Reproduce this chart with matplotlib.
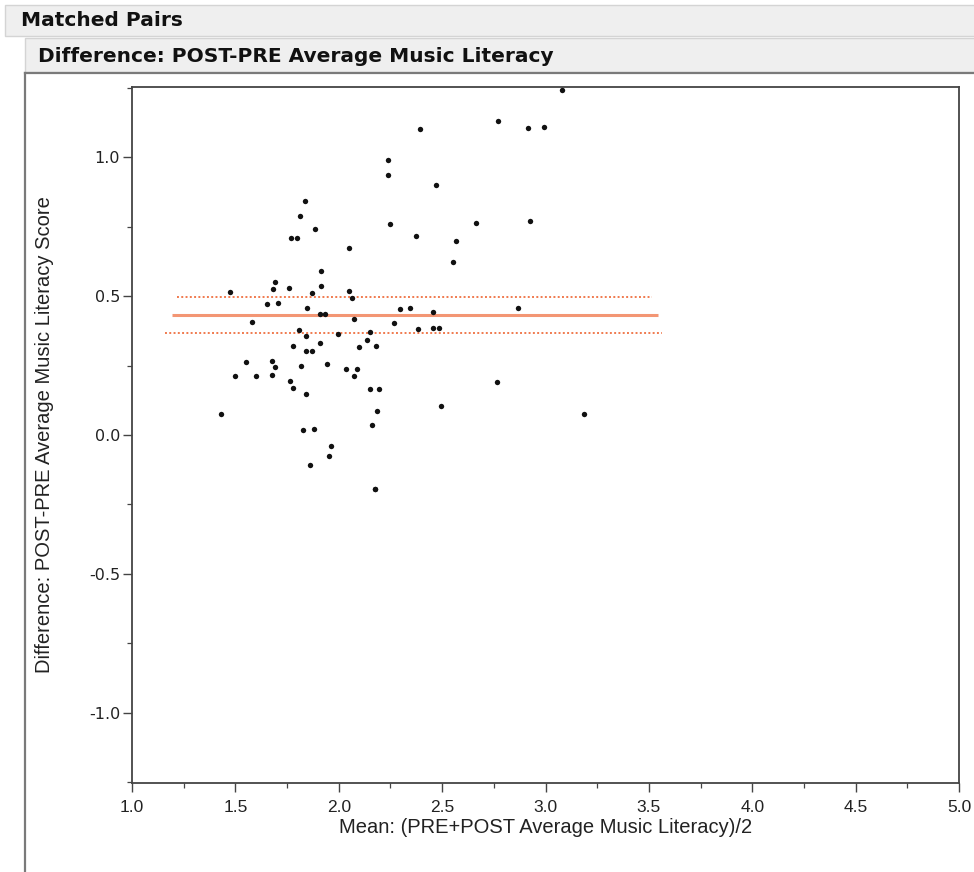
import matplotlib
matplotlib.use("Agg")
import matplotlib.pyplot as plt
from matplotlib.patches import Rectangle
from matplotlib.lines import Line2D
from matplotlib.ticker import MultipleLocator

# ---- data ----
mean_score = [3.081, 2.771, 2.393, 2.915, 2.991, 2.236, 2.240, 2.468, 2.248, 2.666,
              2.925, 2.374, 2.566, 2.552,
              1.837, 1.811, 1.887, 1.769, 1.797, 2.051, 1.912, 1.693, 1.680, 1.758,
              1.475, 1.912, 2.051, 1.871, 2.065, 1.655, 1.706, 1.845, 1.910, 1.934,
              1.582, 2.075, 1.806, 1.844, 1.997, 2.152, 2.139, 2.178, 1.777, 1.908,
              2.099, 1.844, 1.869, 1.549, 1.675, 1.690, 1.816, 1.945, 2.034, 2.086,
              1.499, 1.598, 1.677, 2.073, 1.766, 1.777, 1.842, 2.151, 2.194, 1.432,
              2.184, 2.160, 1.826, 1.878, 1.961, 1.954, 1.863, 2.173, 2.173,
              2.295, 2.344, 2.458, 2.868, 2.267, 2.383, 2.458, 2.485, 2.763, 2.493,
              3.188]
difference = [1.241, 1.129, 1.102, 1.103, 1.108, 0.990, 0.934, 0.899, 0.760, 0.761,
              0.769, 0.716, 0.699, 0.621,
              0.842, 0.789, 0.742, 0.710, 0.710, 0.674, 0.589, 0.551, 0.525, 0.529,
              0.514, 0.537, 0.518, 0.510, 0.494, 0.472, 0.475, 0.458, 0.436, 0.436,
              0.408, 0.417, 0.377, 0.355, 0.362, 0.369, 0.343, 0.319, 0.321, 0.331,
              0.315, 0.302, 0.302, 0.262, 0.267, 0.245, 0.249, 0.256, 0.237, 0.237,
              0.212, 0.212, 0.216, 0.211, 0.195, 0.169, 0.147, 0.164, 0.164, 0.076,
              0.087, 0.036, 0.018, 0.021, -0.038, -0.077, -0.108, -0.194, -0.194,
              0.453, 0.456, 0.442, 0.458, 0.402, 0.381, 0.384, 0.386, 0.192, 0.104,
              0.077]

mean_diff = 0.432
ci_upper = 0.497
ci_lower = 0.368
mean_line_x = [1.194, 3.545]
upper_line_x = [1.218, 3.516]
lower_line_x = [1.160, 3.565]

x_ticks = [1.0, 1.5, 2.0, 2.5, 3.0, 3.5, 4.0, 4.5, 5.0]
y_ticks = [-1.0, -0.5, 0.0, 0.5, 1.0]

section_title = "Matched Pairs"
panel_title = "Difference: POST-PRE Average Music Literacy"
x_label = "Mean: (PRE+POST Average Music Literacy)/2"
y_label = "Difference: POST-PRE Average Music Literacy Score"

# ---- figure ----
W, H = 974, 872
fig = plt.figure(figsize=(W / 100, H / 100), dpi=100)
fig.patch.set_facecolor("white")

def fx(px):
    return px / W

def fy(py):
    return 1 - py / H

label_font = ["Liberation Sans", "DejaVu Sans"]

# header band 1
fig.patches.append(Rectangle((fx(5), fy(36)), fx(W + 10) - fx(5), fy(5) - fy(36),
                             transform=fig.transFigure, facecolor="#efefef",
                             edgecolor="#d4d4d4", linewidth=1.0))
fig.text(fx(21), fy(21), section_title, fontsize=14.5, fontweight="bold",
         family="DejaVu Sans", va="center", ha="left", color="#111111")

# header band 2
fig.patches.append(Rectangle((fx(25), fy(72)), fx(W + 10) - fx(25), fy(38) - fy(72),
                             transform=fig.transFigure, facecolor="#efefef",
                             edgecolor="#d4d4d4", linewidth=1.0))
fig.lines.append(Line2D([fx(25), 1.0], [fy(73), fy(73)], transform=fig.transFigure,
                        color="#7a7a7a", linewidth=1.6))
fig.text(fx(38), fy(57), panel_title, fontsize=14.5, fontweight="bold",
         family="DejaVu Sans", va="center", ha="left", color="#111111")

# outer frame left edge
fig.lines.append(Line2D([fx(25), fx(25)], [fy(73), 0], transform=fig.transFigure,
                        color="#7a7a7a", linewidth=1.6))

# ---- axes ----
ax = fig.add_axes([fx(132), fy(783), fx(959) - fx(132), fy(87) - fy(783)])
ax.set_xlim(1.0, 5.0)
ax.set_ylim(-1.252, 1.252)

ax.plot(mean_line_x, [mean_diff, mean_diff], color="#f39674", linewidth=2.2,
        solid_capstyle="butt", zorder=2)
ax.plot(upper_line_x, [ci_upper, ci_upper], color="#f07a4e", linewidth=1.4,
        linestyle=(0, (1, 1.2)), zorder=2)
ax.plot(lower_line_x, [ci_lower, ci_lower], color="#f07a4e", linewidth=1.4,
        linestyle=(0, (1, 1.2)), zorder=2)

ax.scatter(mean_score, difference, s=15, color="#111111", marker="o",
           linewidths=0, zorder=3, clip_on=False)

for sp in ax.spines.values():
    sp.set_color("#444444")
    sp.set_linewidth(1.3)

ax.set_xticks(x_ticks)
ax.set_xticklabels([f"{v:.1f}" for v in x_ticks], family=label_font, fontsize=12.5)
ax.xaxis.set_minor_locator(MultipleLocator(0.25))
ax.set_yticks(y_ticks)
ax.set_yticklabels([f"{v:.1f}" if v >= 0 else "-" + f"{-v:.1f}" for v in y_ticks],
                   family="DejaVu Sans", fontsize=11.5)
ax.yaxis.set_minor_locator(MultipleLocator(0.25))
ax.tick_params(axis="both", which="major", direction="out", length=6.5, width=1.0,
               color="#444444", labelcolor="#222222")
ax.tick_params(axis="both", which="minor", direction="out", length=3.5, width=0.9,
               color="#444444")
ax.tick_params(axis="x", pad=6)
ax.tick_params(axis="y", pad=2)

ax.set_xlabel(x_label, family=label_font, fontsize=14.5, color="#222222")
ax.set_ylabel(y_label, family=label_font, fontsize=14.5, color="#222222")
ax.xaxis.set_label_coords(0.5, (783 - 818) / 696)
ax.yaxis.set_label_coords((54 - 132) / 827, 0.5)

fig.savefig("out.png", dpi=100, facecolor="white")
